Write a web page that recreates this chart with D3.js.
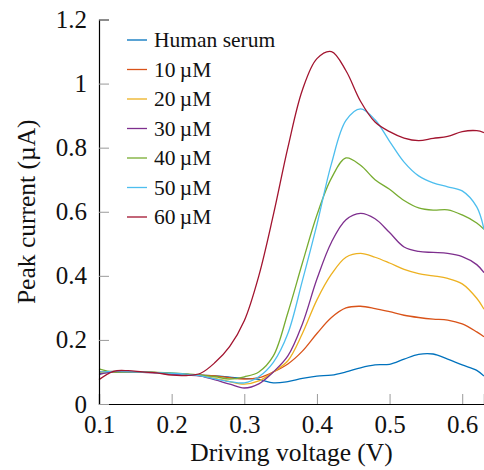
<!DOCTYPE html>
<html>
<head>
<meta charset="utf-8">
<script src="https://cdn.jsdelivr.net/npm/d3@7"></script>
<style>
  body { margin: 0; background: #fff; }
  svg { display: block; }
</style>
</head>
<body>
<div class="chart"></div>
<script>
// driving voltage (V)
const voltage = [0.10, 0.12, 0.14, 0.16, 0.18, 0.20, 0.22, 0.24, 0.26, 0.28,
                 0.30, 0.32, 0.34, 0.36, 0.38, 0.40, 0.42, 0.44, 0.46, 0.48,
                 0.50, 0.52, 0.54, 0.56, 0.58, 0.60, 0.62, 0.63];

// peak current (uA) for each sample
const humanSerum = [0.095, 0.100, 0.100, 0.100, 0.098, 0.095, 0.092, 0.090, 0.088, 0.084,
                    0.080, 0.077, 0.066, 0.070, 0.080, 0.087, 0.090, 0.100, 0.113, 0.122,
                    0.124, 0.140, 0.155, 0.156, 0.140, 0.122, 0.105, 0.087];
const conc10 = [0.100, 0.102, 0.102, 0.100, 0.098, 0.094, 0.092, 0.090, 0.088, 0.082,
                0.078, 0.082, 0.100, 0.125, 0.165, 0.220, 0.270, 0.300, 0.305, 0.298,
                0.288, 0.277, 0.270, 0.265, 0.262, 0.250, 0.225, 0.210];
const conc20 = [0.098, 0.100, 0.100, 0.100, 0.098, 0.095, 0.092, 0.088, 0.080, 0.070,
                0.062, 0.072, 0.100, 0.135, 0.220, 0.325, 0.405, 0.458, 0.470, 0.458,
                0.440, 0.420, 0.407, 0.400, 0.392, 0.375, 0.330, 0.296];
const conc30 = [0.092, 0.100, 0.100, 0.099, 0.097, 0.093, 0.090, 0.087, 0.075, 0.062,
                0.050, 0.063, 0.100, 0.150, 0.250, 0.390, 0.505, 0.575, 0.595, 0.578,
                0.535, 0.490, 0.476, 0.473, 0.470, 0.460, 0.435, 0.410];
const conc40 = [0.110, 0.100, 0.100, 0.100, 0.099, 0.097, 0.094, 0.090, 0.085, 0.078,
                0.085, 0.100, 0.150, 0.285, 0.440, 0.590, 0.705, 0.768, 0.745, 0.700,
                0.670, 0.635, 0.612, 0.605, 0.606, 0.590, 0.565, 0.545];
const conc50 = [0.100, 0.102, 0.101, 0.100, 0.098, 0.096, 0.093, 0.088, 0.078, 0.070,
                0.066, 0.085, 0.130, 0.220, 0.385, 0.560, 0.750, 0.885, 0.921, 0.887,
                0.820, 0.755, 0.712, 0.690, 0.678, 0.665, 0.615, 0.545];
const conc60 = [0.076, 0.102, 0.104, 0.100, 0.097, 0.090, 0.089, 0.096, 0.130, 0.180,
                0.260, 0.400, 0.590, 0.800, 0.980, 1.078, 1.100, 1.040, 0.945, 0.880,
                0.850, 0.830, 0.822, 0.829, 0.835, 0.850, 0.853, 0.847];

const seriesNames = ["Human serum", "10\u2009\u00b5M", "20\u2009\u00b5M", "30\u2009\u00b5M",
                     "40\u2009\u00b5M", "50\u2009\u00b5M", "60\u2009\u00b5M"];
const seriesValues = [humanSerum, conc10, conc20, conc30, conc40, conc50, conc60];

const xTicks = [0.1, 0.2, 0.3, 0.4, 0.5, 0.6];
const yTicks = [0, 0.2, 0.4, 0.6, 0.8, 1, 1.2];

const serif = "'Liberation Serif', 'Times New Roman', serif";

function colors(i) {
    return ["#0072bd", "#d95319", "#edb120", "#7e2f8e", "#77ac30", "#4dbeee", "#a2142f"][i];
}

var margin = ({ top: 19.5, right: 0, bottom: 66, left: 99 });
var width = 484, height = 470;

const x = d3.scaleLinear()
    .domain([0.1, 0.63])
    .range([margin.left, width - margin.right]);

const y = d3.scaleLinear()
    .domain([0, 1.2])
    .range([height - margin.bottom, margin.top]);

const svg = d3.select(".chart").append("svg")
    .attr("width", width)
    .attr("height", height)
    .attr("font-family", serif);

// axes, ticks pointing inwards
const xAxis = g => g
    .attr("transform", `translate(0,${height - margin.bottom})`)
    .call(d3.axisBottom(x).tickValues(xTicks).tickSize(-10).tickPadding(11)
        .tickFormat(d3.format(".1f")))
    .call(g => g.select(".domain").attr("stroke", "#000").attr("stroke-width", 1.2))
    .call(g => g.selectAll(".tick line").attr("stroke", "#9a9a9a"))
    .call(g => g.selectAll(".tick text").attr("fill", "#111")
        .style("font-family", serif).style("font-size", "25px"));

const yAxis = g => g
    .attr("transform", `translate(${margin.left},0)`)
    .call(d3.axisLeft(y).tickValues(yTicks).tickSize(-10).tickPadding(12)
        .tickFormat(d => d === 0 || d === 1 ? d3.format("d")(d) : d3.format(".1f")(d)))
    .call(g => g.select(".domain").attr("stroke", "#000").attr("stroke-width", 1.2))
    .call(g => g.selectAll(".tick line").attr("stroke", "#9a9a9a"))
    .call(g => g.selectAll(".tick text").attr("fill", "#111")
        .style("font-family", serif).style("font-size", "25px"));

const line = d3.line()
    .x((d, i) => x(voltage[i]))
    .y(d => y(d))
    .curve(d3.curveCatmullRom.alpha(0.5));

svg.append("g")
    .attr("fill", "none")
    .attr("stroke-width", 1.3)
    .attr("stroke-linejoin", "round")
    .selectAll("path")
    .data(seriesValues)
    .join("path")
    .attr("d", d => line(d))
    .attr("stroke", (d, i) => colors(i));

svg.append("g").call(xAxis);
svg.append("g").call(yAxis);

// axis labels
svg.append("text")
    .attr("x", (margin.left + width - margin.right) / 2)
    .attr("y", 461)
    .attr("text-anchor", "middle")
    .attr("font-size", 25.5)
    .attr("fill", "#111")
    .text("Driving voltage (V)");

svg.append("text")
    .attr("transform", `translate(35,${(margin.top + height - margin.bottom) / 2}) rotate(-90)`)
    .attr("text-anchor", "middle")
    .attr("font-size", 25.5)
    .attr("fill", "#111")
    .text("Peak current (\u00b5A)");

// legend
const legend = svg.append("g")
    .attr("transform", "translate(127,40)")
    .selectAll("g")
    .data(seriesNames)
    .join("g")
    .attr("transform", (d, i) => `translate(0,${i * 29.5})`);

legend.append("line")
    .attr("x1", 0).attr("x2", 20)
    .attr("stroke", (d, i) => colors(i))
    .attr("stroke-width", 1.3);

legend.append("text")
    .attr("x", 27)
    .attr("y", 7)
    .attr("font-size", 21.5)
    .attr("fill", "#111")
    .text(d => d);
</script>
</body>
</html>
